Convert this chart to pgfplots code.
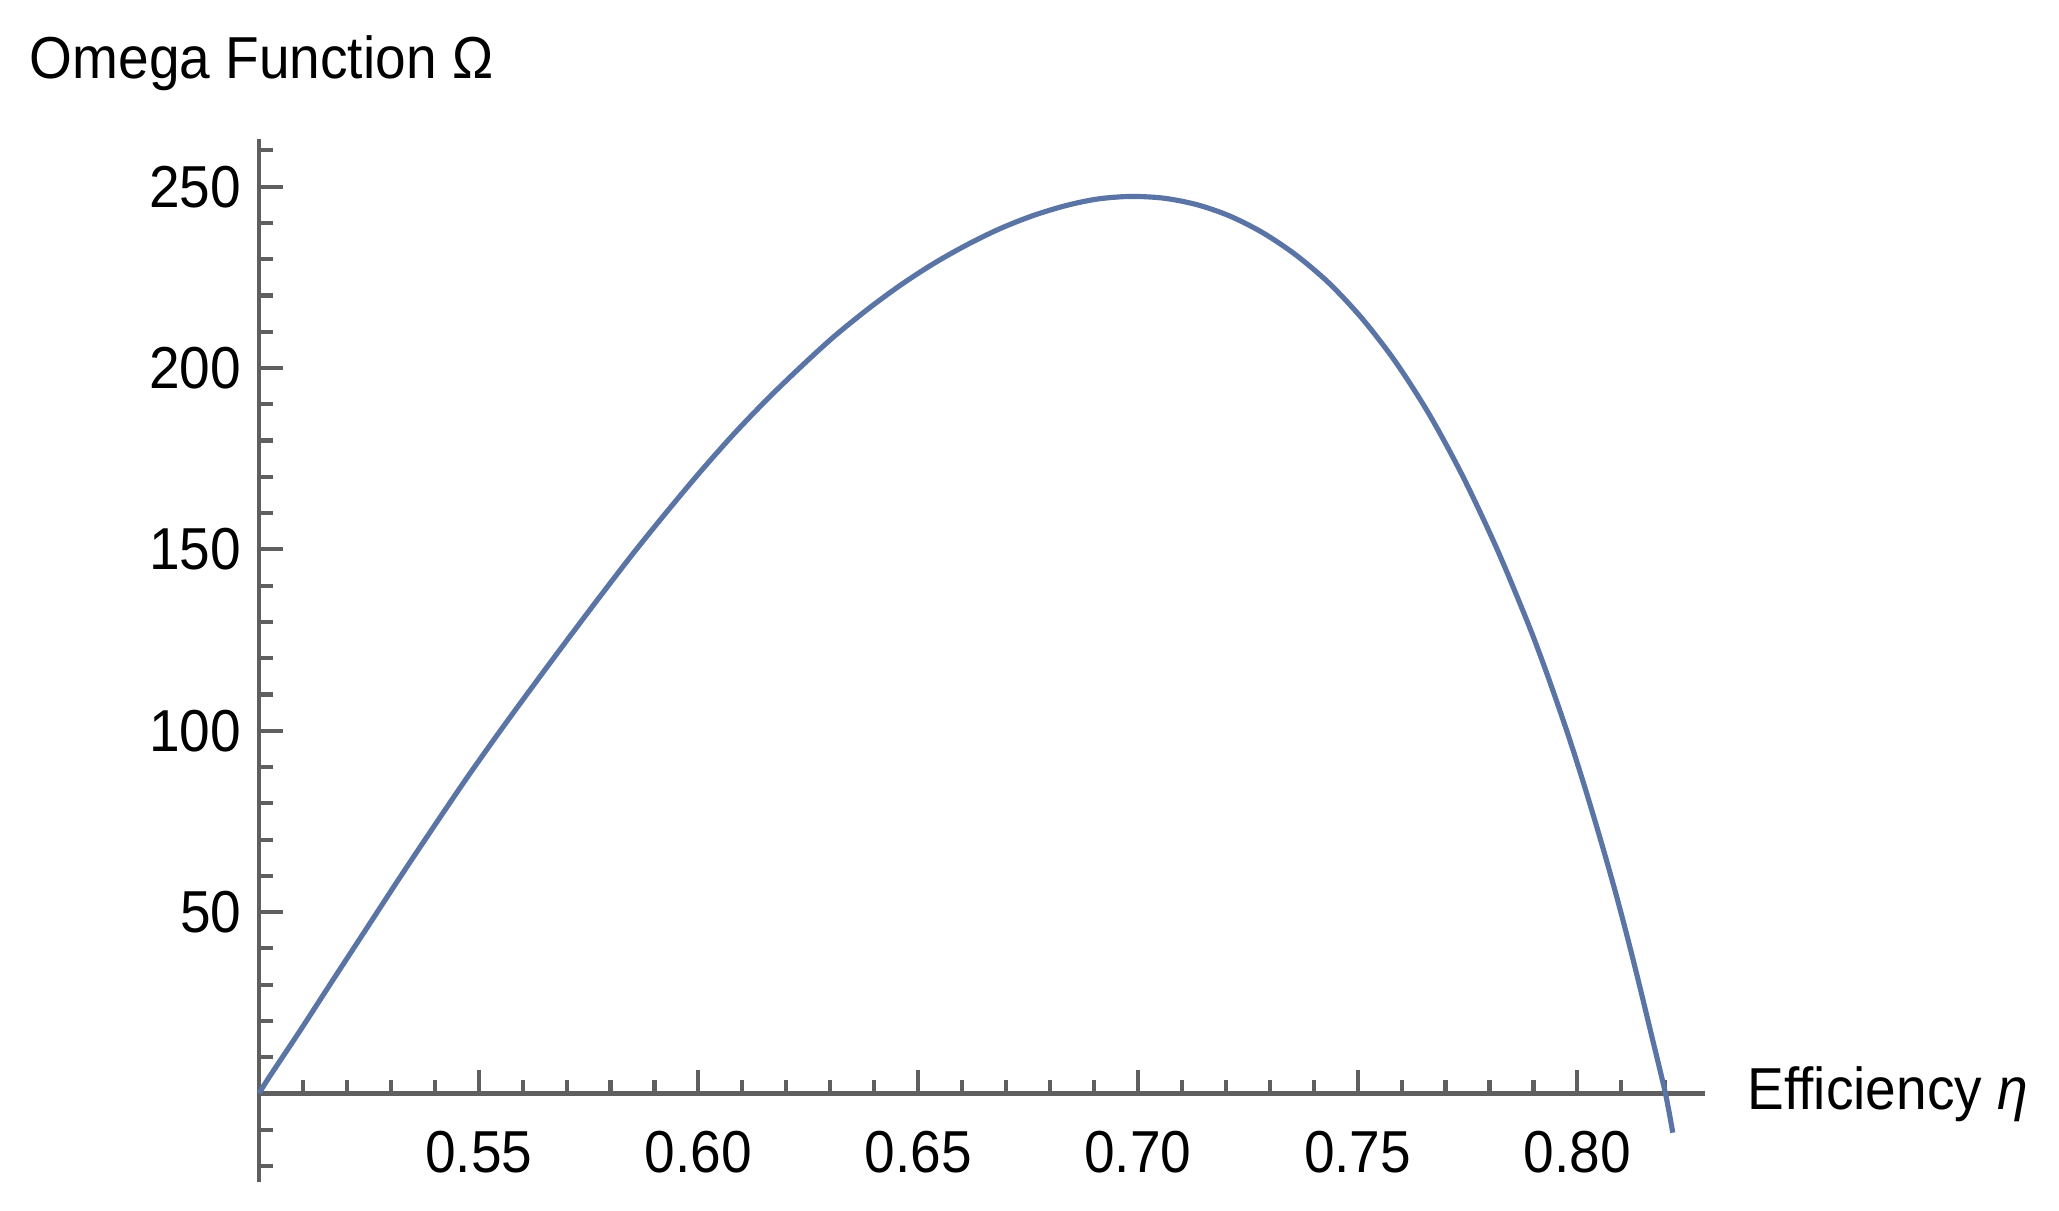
\documentclass[border=0pt]{standalone}
\usepackage{pgfplots}
\pgfplotsset{compat=1.18}
\usepackage{fontspec}
\setmainfont{Liberation Sans}[FakeStretch=0.93]

\definecolor{axisgray}{RGB}{95,95,95}
\definecolor{curveblue}{RGB}{90,116,165}

\begin{document}
\fontsize{11.5}{13}\selectfont
\begin{tikzpicture}
\useasboundingbox (-50.3pt,-5.55pt) rectangle (349.7pt,229.7pt);
\begin{axis}[
    at={(0,0)}, anchor=south west,
    scale only axis,
    width=280.9pt, height=202.6pt,
    xmin=0.5, xmax=0.829,
    ymin=-24.5, ymax=263,
    axis x line*=middle,
    axis y line*=left,
    clip=false,
    /pgf/number format/assume math mode=true,
    tick align=inside,
    xtick={0.55,0.60,0.65,0.70,0.75,0.80},
    minor xtick={0.51,0.52,0.53,0.54,0.56,0.57,0.58,0.59,0.61,0.62,0.63,0.64,
                 0.66,0.67,0.68,0.69,0.71,0.72,0.73,0.74,0.76,0.77,0.78,0.79,0.81,0.82},
    ytick={50,100,150,200,250},
    minor ytick={-20,-10,10,20,30,40,60,70,80,90,110,120,130,140,160,170,180,190,
                 210,220,230,240,260},
    major tick length=4.6pt,
    minor tick length=2.7pt,
    axis line style={color=axisgray, line width=0.8pt},
    tick style={color=axisgray, line width=0.8pt},
    x tick label style={/pgf/number format/.cd, fixed, fixed zerofill, precision=2, /tikz/.cd, yshift=-3.2pt},
    y tick label style={xshift=0.6pt},
    xlabel={Efficiency \textit{η}},
    xlabel style={at={(axis description cs:1,0.0852)}, anchor=base west, inner sep=0pt, xshift=8.1pt, yshift=-3.2pt},
    ylabel={Omega Function Ω},
    ylabel style={rotate=-90, at={(axis description cs:0,1)}, anchor=base west, inner sep=0pt, xshift=-44.7pt, yshift=11.8pt},
]
\addplot[color=curveblue, line width=1pt, smooth, tension=0.5] coordinates {
    (0.5000, 0) (0.5025, 4.8) (0.5093, 17.2) (0.5169, 31.4) (0.5245, 45.5)
    (0.5321, 59.6) (0.5397, 73.4) (0.5472, 86.8) (0.5548, 99.8) (0.5624, 112.4)
    (0.5700, 124.8) (0.5776, 137.0) (0.5851, 148.8) (0.5927, 160.2) (0.6003, 171.2)
    (0.6079, 181.6) (0.6155, 191.2) (0.6231, 200.1) (0.6306, 208.4) (0.6382, 215.9)
    (0.6458, 222.7) (0.6534, 228.7) (0.6610, 233.9) (0.6686, 238.4) (0.6761, 242.0)
    (0.6837, 244.8) (0.6909, 246.6) (0.6984, 247.3) (0.7060, 246.8) (0.7135, 245.0)
    (0.7209, 241.9) (0.7284, 237.3) (0.7359, 231.2) (0.7434, 223.5) (0.7509, 213.8)
    (0.7585, 201.9) (0.7662, 187.4) (0.7739, 170.2) (0.7816, 150.4) (0.7885, 130.4)
    (0.7923, 118.3) (0.7962, 104.9) (0.7992, 94.0) (0.8023, 82.0) (0.8054, 69.4)
    (0.8085, 56.2) (0.8112, 43.9) (0.8138, 31.4) (0.8169, 15.9) (0.8200, 0.2)
    (0.8217, -10.8)
};
\end{axis}
\end{tikzpicture}
\end{document}
